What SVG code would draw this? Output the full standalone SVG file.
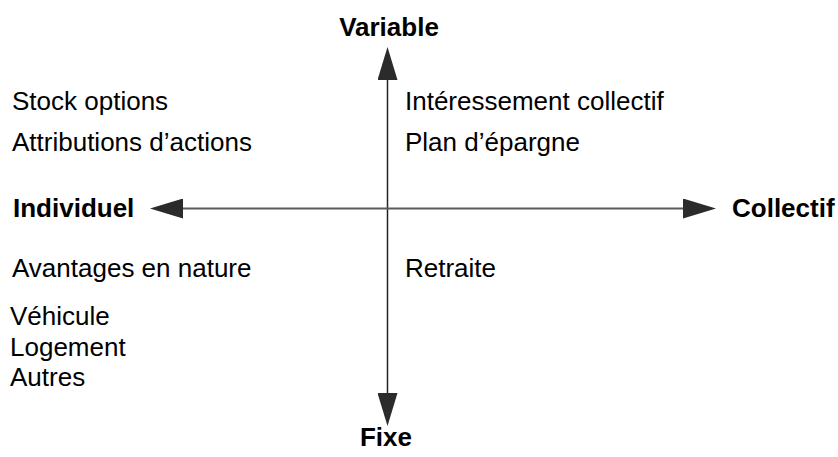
<svg xmlns="http://www.w3.org/2000/svg" width="838" height="457" viewBox="0 0 838 457">
  <style>
    text { font-family: "Liberation Sans", Arial, Helvetica, sans-serif; font-size: 26px; fill: #000; }
    .axis-label { font-weight: bold; }
    .axis { fill: none; }
    .v { stroke: #222; stroke-width: 1.5; }
    .h { stroke: #5a5a5a; stroke-width: 2; }
  </style>
  <defs>
    <marker id="head" markerUnits="userSpaceOnUse" markerWidth="34" markerHeight="20" refX="0" refY="10" orient="auto-start-reverse">
      <path d="M0,0 L33,10 L0,20 Z" fill="#2b2b2b"/>
    </marker>
  </defs>
  <rect width="838" height="457" fill="#fff"/>

  <!-- Axes -->
  <g id="connectors">
    <line class="axis v" x1="387.5" y1="80" x2="387.5" y2="393" marker-start="url(#head)" marker-end="url(#head)"/>
    <line class="axis h" x1="183" y1="208.5" x2="683" y2="208.5" marker-start="url(#head)" marker-end="url(#head)"/>
  </g>

  <!-- Axis ends -->
  <g id="variable"><text class="axis-label" x="389" y="36" text-anchor="middle">Variable</text></g>
  <g id="fixe"><text class="axis-label" x="386" y="446" text-anchor="middle">Fixe</text></g>
  <g id="individuel"><text class="axis-label" x="13" y="217">Individuel</text></g>
  <g id="collectif"><text class="axis-label" x="732" y="217">Collectif</text></g>

  <!-- Quadrant contents -->
  <g id="individuel-variable">
    <text x="12" y="110">Stock options</text>
    <text x="12" y="151">Attributions d’actions</text>
  </g>
  <g id="collectif-variable">
    <text x="405" y="110">Intéressement collectif</text>
    <text x="405" y="151">Plan d’épargne</text>
  </g>
  <g id="individuel-fixe">
    <text x="12" y="277">Avantages en nature</text>
    <text x="10" y="325">Véhicule</text>
    <text x="10" y="356">Logement</text>
    <text x="10" y="386">Autres</text>
  </g>
  <g id="collectif-fixe">
    <text x="405" y="277">Retraite</text>
  </g>
</svg>
